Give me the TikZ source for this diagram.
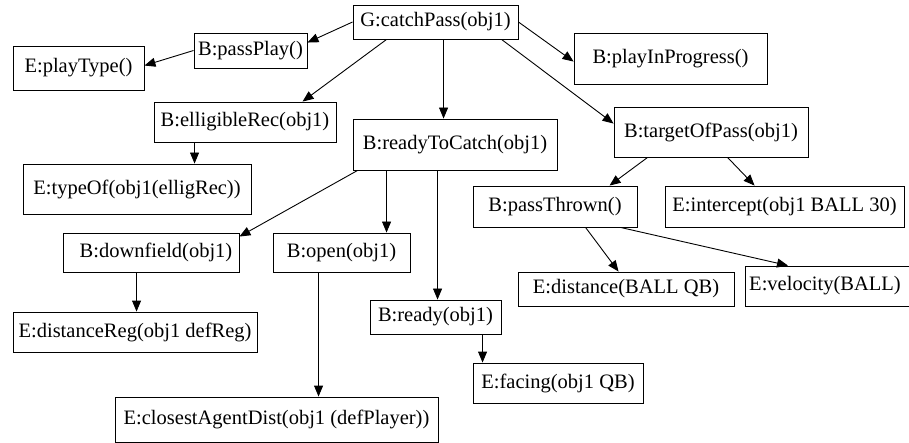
\documentclass[tikz,border=0pt]{standalone}
\usepackage{fontspec}
\setmainfont{Liberation Serif}
\newfontfamily\labelfont{Liberation Serif}
\usetikzlibrary{arrows.meta,calc}
\begin{document}
\begin{tikzpicture}[x=1pt,y=-1pt,
  bx/.style={draw, line width=0.9pt, inner sep=0pt, font=\labelfont\fontsize{20.5}{24}\selectfont},
  edge/.style={line width=0.9pt, -{Triangle[length=11pt,width=9pt]}}]
\useasboundingbox (0,0) rectangle (909,443);
% nodes: centre, width, height
\node[bx, minimum width=165, minimum height=34] (G) at (435.5,22) {G:catchPass(obj1)};
\node[bx, minimum width=113, minimum height=35] (passPlay) at (250.5,50.5) {B:passPlay()};
\node[bx, minimum width=131, minimum height=44] (playType) at (78.5,68) {E:playType()};
\node[bx, minimum width=193, minimum height=51] (playInProgress) at (670.5,58.5) {B:playInProgress()};
\node[bx, minimum width=182, minimum height=40] (elligibleRec) at (245,122) {B:elligibleRec(obj1)};
\node[bx, minimum width=204, minimum height=51] (readyToCatch) at (455,144.5) {B:readyToCatch(obj1)};
\node[bx, minimum width=194, minimum height=50] (targetOfPass) at (711,132) {B:targetOfPass(obj1)};
\node[bx, minimum width=228, minimum height=50] (typeOf) at (137,189) {E:typeOf(obj1(elligRec))};
\node[bx, minimum width=164, minimum height=41] (passThrown) at (555,206.5) {B:passThrown()};
\node[bx, minimum width=239, minimum height=41] (intercept) at (784.5,206.5) {E:intercept(obj1 BALL 30)};
\node[bx, minimum width=176, minimum height=39] (downfield) at (151,252.5) {\hspace{10pt}B:downfield(obj1)};
\node[bx, minimum width=137, minimum height=39] (open) at (341.5,252.5) {B:open(obj1)\hspace{16pt}};
\node[bx, minimum width=216, minimum height=34] (distance) at (626,289) {E:distance(BALL QB)};
\node[bx, minimum width=167, minimum height=40, anchor=west] (velocity) at (745,286) {\hspace{-8pt}E:velocity(BALL)};
\node[bx, minimum width=131, minimum height=34] (ready) at (435.5,317) {B:ready(obj1)};
\node[bx, minimum width=244, minimum height=40] (distanceReg) at (135,332) {E:distanceReg(obj1 defReg)};
\node[bx, minimum width=170, minimum height=40] (facing) at (558,383) {E:facing(obj1 QB)};
\node[bx, minimum width=323, minimum height=45] (closest) at (276.5,419.5) {E:closestAgentDist(obj1 (defPlayer))};
% connectors
\draw[edge] (G.west) -- ($(passPlay.north east)+(0,10)$);
\draw[edge] (passPlay.west) -- ($(playType.north east)+(0,20)$);
\draw[edge] ($(G.south west)+(34,0)$) -- ($(elligibleRec.north west)+(149,0)$);
\draw[edge] ($(G.south west)+(91,0)$) -- ($(readyToCatch.north west)+(91,0)$);
\draw[edge] (G.east) -- ($(playInProgress.north west)+(0,29)$);
\draw[edge] ($(G.south west)+(149,0)$) -- ($(targetOfPass.north west)+(0,17)$);
\draw[edge] ($(elligibleRec.south west)+(41,0)$) -- ($(typeOf.north west)+(172,0)$);
\draw[edge] ($(readyToCatch.south west)+(5,0)$) -- ($(downfield.north east)+(0,4)$);
\draw[edge] ($(readyToCatch.south west)+(34,0)$) -- ($(open.north west)+(114,0)$);
\draw[edge] ($(readyToCatch.south west)+(85,0)$) -- ($(ready.north west)+(68,0)$);
\draw[edge] ($(targetOfPass.south west)+(34,0)$) -- ($(passThrown.north west)+(137,0)$);
\draw[edge] ($(targetOfPass.south west)+(114,0)$) -- ($(intercept.north west)+(90,0)$);
\draw[edge] ($(passThrown.south west)+(113,0)$) -- ($(distance.north west)+(101,0)$);
\draw[edge] ($(passThrown.south west)+(148,0)$) -- ($(velocity.north west)+(43,0)$);
\draw[edge] ($(downfield.south west)+(74,0)$) -- ($(distanceReg.north west)+(124,0)$);
\draw[edge] ($(open.south west)+(46,0)$) -- ($(closest.north west)+(204,0)$);
\draw[edge] ($(ready.south west)+(113,0)$) -- ($(facing.north west)+(10,0)$);
\end{tikzpicture}
\end{document}
